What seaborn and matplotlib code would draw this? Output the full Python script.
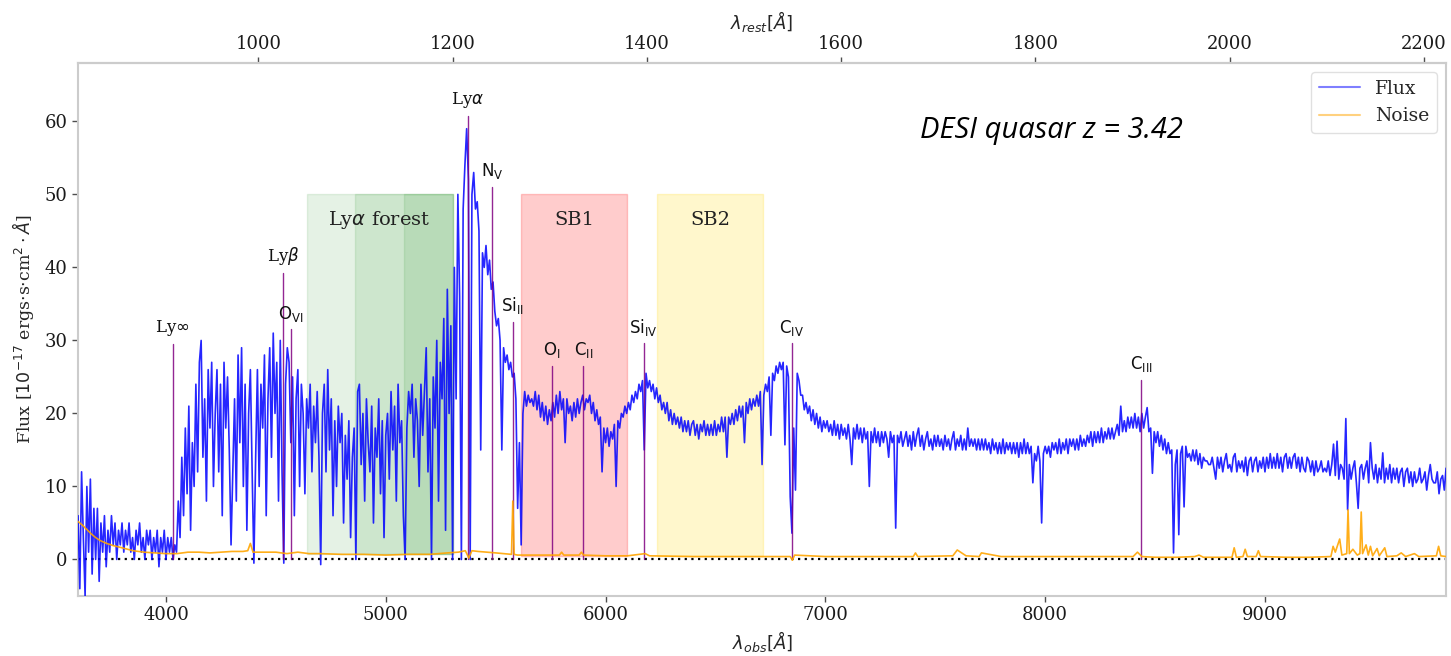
import numpy as np
import pandas as pd
import matplotlib
matplotlib.use("Agg")
import matplotlib.pyplot as plt
from matplotlib.lines import Line2D
import seaborn as sns

# ---------------- data ----------------
z_qso = 3.42
grid_step = 8.0

blue_start = 3600.0
flux_blue = [6, -4, 12, 3, -5, 10, 1, 11, -2, 7,
             0, 7, -3, 5, 1, 6, -1, 4, 1, 6,
             2, 5, 0, 4, 2, 5, 1, 4, 2, 5,
             1, 3, 0, 4, 2, 5, 1, 3, 0, 4,
             2, 4, 0, 3, 1, 4, -1, 3, 1, 4,
             0, 3, 1, 3, 0, 2, 1, 8, 3, 14]

forest_start = 4080.0
flux_forest = [6, 18, 9, 21, 4, 16, 10, 24, 12, 27,
               30, 14, 22, 8, 26, 18, 27, 10, 20, 26,
               12, 24, 6, 27, 18, 25, 15, 2, 12, 22,
               8, 28, 16, 29, 10, 24, 4, 20, 26, 12,
               -0.5, 14, 26, 10, 24, 18, 28, 6, 22, 29,
               14, 31, 20, 27, 8, 30, 12, -0.5, 24, 29,
               27, 16, 25, 6, 22, 26, 10, 24, 20, 9,
               22, 18, 24, 12, 21, 16, 23, 14, -0.7, 20,
               24, 12, 26, 15, 22, 6, 19, 10, 21, 16,
               20, 5, 17, 11, 19, 3, 14, 18, 0, 23,
               24, 13, 20, 8, 22, 16, 12, 21, 5, 18,
               14, 22, 9, 19, 3, 17, 20, 11, 23, 15,
               21, 8, 24, 16, 19, 6, 0, 18, 23, 20,
               24, 14, 22, 19, 10, 24, 17, 23, 29, 12,
               22, 0, 25, 18, 30, 8, 27, 22, 33, 4,
               37, 20, 32, 0, 40, 22, 50, 36, 0, 48]

lya_start = 5360.0
flux_lya = [54, 59, 52, 0, 50, 53, 48, 49, 45, 15,
            42, 40, 43, 39, 41, 37, 38, 34, 32, 33,
            30, 15, 29, 27, 28, 26, 27, 25, 25.5, 22,
            7, 16, 2, 20, 23, 21, 22.5, 21.5, 22, 21]

red1_start = 5680.0
flux_red1 = [23, 20.5, 22.5, 19.5, 21.5, 19, 21, 18.5, 20.5, 19,
             21.5, 19.5, 22.5, 20, 23, 20.5, 22, 16, 22, 20,
             21, 19, 21.5, 19.5, 22, 20, 21.5, 22.5, 20.5, 22,
             21.5, 22.5, 20, 21.5, 19, 20.5, 18.5, 19.5, 12, 18,
             16, 18, 15.5, 17.5, 16.5, 18.5, 10, 19, 18, 20,
             19.5, 21, 20, 21.5, 20.5, 22.5, 21.5, 23, 22, 24,
             23, 24.5, 15, 25.5, 23.5, 24.5, 23, 24, 22, 23.5,
             21.5, 22.5, 20.5, 21.5, 20, 21.5, 19, 20.5, 18.5, 20,
             18.5, 19.5, 18, 19.5, 17.5, 19, 17.5, 19, 17, 18.5,
             19, 17, 18.5, 16.5, 18.5, 17.5, 19, 17, 18.5, 17,
             18.5, 17, 19, 17, 18.5, 17.5, 19.5, 17.5, 19.5, 14,
             19.5, 18.5, 20, 18.5, 20.5, 19, 21, 19.5, 21, 16,
             21.5, 20, 22, 20.5, 22, 21, 22.5, 21, 23, 13,
             22.5, 24, 23, 25, 17, 25.5, 24.5, 26.5, 25.5, 27,
             26, 27, 15.7, 26.5, 25, 8.6, 3.6, 18, 9.5, 25.5,
             24.5, 22.5, 22.5, 20.5, 21.5, 20, 21, 19, 20.5, 18.5,
             20, 18, 19.5, 17.5, 19, 18, 19, 17.5, 18.5, 17,
             19, 17, 18.5, 16.5, 18.5, 17, 18, 16.5, 18.5, 16.5,
             13, 18, 16.5, 18.5, 16.5, 18, 16, 18, 16.5, 17.5,
             10, 17.5, 16, 18, 16, 17.5, 15.5, 17.5, 16, 17.5]

red2_start = 7280.0
flux_red2 = [16.5, 14, 17.5, 16, 17, 4.3, 17, 16, 17.5, 15.5,
             16.5, 17.5, 15.5, 17, 15, 17.5, 15.5, 17, 18, 15.5,
             17, 15, 16.5, 17.5, 15.5, 16.5, 15, 17, 15.5, 17,
             15.5, 16.5, 15, 17, 15.5, 16.5, 15, 16.5, 17.5, 15,
             16.5, 15.5, 17, 15, 16.5, 15, 18, 15.5, 16.5, 15.5,
             16.5, 15, 16.5, 15, 16.5, 15, 16.5, 15, 16, 14.5,
             16.5, 15, 16, 14.5, 16, 14.5, 16.5, 14.5, 16, 15,
             16, 14.5, 16, 14.5, 16, 14, 16, 14.5, 16.5, 14.5,
             16, 14.5, 15.5, 10.5, 14.5, 13.5, 15.5, 13.5, 5, 14.5,
             15.5, 14.5, 15.5, 14, 16, 15, 16, 14.5, 16.5, 14.5,
             16, 15, 16.5, 14.5, 16.5, 15.5, 16.5, 15, 16.5, 15,
             17, 15.5, 16.5, 15.5, 17, 16, 17.5, 15.5, 17.5, 16,
             17.5, 16, 18, 16, 17.5, 16.5, 18, 16.5, 18, 16.5,
             17.5, 18.5, 17, 21, 17.5, 19, 17.5, 19.5, 18, 19.5,
             18, 20, 18, 19.5, 17.5, 20, 18, 19.5, 20.8, 17.5,
             18, 11.8, 17.5, 16, 17.5, 15.5, 17, 15, 16.5, 14.5,
             16, 14.5, 15, 0.9, 13, 15, 3.4, 14.5, 15.5, 7.2,
             15.5, 14, 14.5, 13.5, 15, 13.5, 15, 13, 14.5, 12.5,
             14, 13.5, 13.5, 13, 13, 14, 12.5, 11, 14, 12.5,
             14, 12, 13.5, 14.5, 12.5, 13, 12, 14, 14.5, 12,
             13.5, 12.5, 13.5, 12, 14, 11.5, 13.5, 14, 12, 13.5,
             14, 12, 13.5, 12.5, 14, 12, 14, 12.5, 14.5, 12.5,
             14, 12.5, 14.5, 12.5, 14, 12, 14, 14.5, 12.5, 14,
             12.5, 14, 14.5, 12.5, 14, 12, 14, 12.5, 12, 14,
             13.5, 12, 13.5, 11.5, 13.5, 12, 12.5, 13.5, 12, 12.5,
             12, 13.5, 11.5, 13, 15.8, 11.5, 16.2, 11, 13, 12.5,
             11, 19.3, 6.8, 13, 11, 12.5, 13.5, 10.5, 7, 12.5,
             13, 11, 12.5, 13.5, 10.5, 16, 12.5, 11, 13, 10.5,
             12.5, 11, 14.6, 10.5, 12.5, 11, 13, 10.5, 12.5, 11,
             12.5, 10.5, 12, 12.5, 10, 12, 12.5, 10.5, 12, 10,
             12, 10.5, 11, 12.5, 10.5, 11, 12, 9.5, 11.5, 13,
             11, 10.5, 10.5, 12, 9, 11, 11.5, 9.5, 12.5, 10.5]

noise_wave = [3600, 3620, 3640, 3660, 3680, 3700, 3730, 3760, 3800, 3850,
              3900, 3950, 4000, 4050, 4100, 4150, 4200, 4250, 4300, 4350,
              4372, 4384, 4396, 4450, 4500, 4550, 4600, 4650, 4700, 4800,
              4900, 5000, 5100, 5200, 5280, 5330, 5362, 5378, 5392, 5420,
              5500, 5572, 5578, 5584, 5600, 5700, 5790, 5800, 5810, 5880,
              5890, 5900, 6000, 6100, 6180, 6200, 6400, 6600, 6840, 6850,
              6860, 7000, 7200, 7400, 7410, 7420, 7580, 7600, 7620, 7640,
              7700, 7710, 7800, 7900, 8000, 8100, 8200, 8300, 8400, 8420,
              8440, 8500, 8600, 8680, 8700, 8720, 8800, 8850, 8860, 8870,
              8900, 8910, 8920, 8960, 8970, 8980, 9100, 9200, 9300, 9310,
              9320, 9340, 9350, 9372, 9378, 9384, 9400, 9420, 9432, 9438,
              9444, 9460, 9470, 9480, 9490, 9510, 9520, 9545, 9555, 9600,
              9620, 9640, 9680, 9700, 9780, 9790, 9800, 9824]
noise_vals = [5.2, 4.7, 4.1, 3.5, 3.0, 2.6, 2.2, 1.9, 1.6, 1.2,
              1.0, 0.9, 0.8, 0.8, 1.0, 1.0, 0.9, 1.0, 1.1, 1.1,
              1.2, 2.2, 1.0, 1.0, 1.0, 0.8, 1.0, 0.8, 0.8, 0.7,
              0.7, 0.6, 0.7, 0.7, 0.9, 1.0, 1.2, 0.2, 1.2, 1.1,
              0.9, 0.7, 8.0, 0.7, 0.6, 0.6, 0.6, 1.0, 0.6, 0.6,
              1.0, 0.6, 0.5, 0.5, 0.8, 0.5, 0.4, 0.4, 0.4, -0.1,
              0.6, 0.4, 0.4, 0.4, 0.9, 0.4, 0.5, 1.3, 0.9, 0.5,
              0.4, 0.9, 0.4, 0.4, 0.4, 0.4, 0.4, 0.4, 0.4, 1.0,
              0.4, 0.3, 0.3, 0.4, 0.6, 0.3, 0.3, 0.3, 1.6, 0.3,
              0.4, 1.4, 0.4, 0.4, 1.2, 0.4, 0.3, 0.3, 0.4, 1.8,
              1.0, 2.8, 0.6, 0.8, 6.8, 0.8, 1.4, 0.6, 0.8, 6.5,
              0.8, 2.0, 0.6, 1.8, 0.5, 1.5, 0.5, 1.6, 0.4, 0.5,
              0.9, 0.4, 0.8, 0.4, 0.5, 1.8, 0.5, 0.4]

line_labels = ["Ly$\\infty$", "Ly$\\beta$", "$\\mathrm{O_{VI}}$", "Ly$\\alpha$",
               "$\\mathrm{N_{V}}$", "$\\mathrm{Si_{II}}$", "$\\mathrm{O_{I}}$",
               "$\\mathrm{C_{II}}$", "$\\mathrm{Si_{IV}}$", "$\\mathrm{C_{IV}}$",
               "$\\mathrm{C_{III}}$"]
line_rest = [911.8, 1025.7, 1033.8, 1215.7, 1240.8, 1262.0, 1302.2, 1334.5,
             1396.8, 1549.0, 1908.7]
line_tops = [29.5, 39.3, 31.5, 60.8, 51.0, 32.5, 26.5, 26.5, 29.6, 29.6, 24.6]

forest_edges = [1050, 1100, 1150]
forest_end = 1200
sb_names = ["SB1", "SB2"]
sb_lo = [1270, 1410]
sb_hi = [1380, 1520]
band_top = 50

rest_ticks = [1000, 1200, 1400, 1600, 1800, 2000, 2200]
flux_ticks = [0, 10, 20, 30, 40, 50, 60]

# ---------------- build frames ----------------
segments = [(blue_start, flux_blue), (forest_start, flux_forest), (lya_start, flux_lya),
            (red1_start, flux_red1), (red2_start, flux_red2)]
waves, fluxes = [], []
for start, vals in segments:
    waves.append(start + grid_step * np.arange(len(vals)))
    fluxes.append(np.asarray(vals, dtype=float))
flux_df = pd.DataFrame({"wave": np.concatenate(waves), "flux": np.concatenate(fluxes)})
noise_df = pd.DataFrame({"wave": noise_wave, "noise": noise_vals})

# ---------------- style ----------------
sns.set_style("white")
plt.rcParams["font.family"] = ["DejaVu Serif"]
plt.rcParams["mathtext.fontset"] = "dejavusans"

fig = plt.figure(figsize=(14.51, 6.56), dpi=100)
ax = fig.add_axes([0.0538, 0.0915, 0.9428, 0.8125])

fac = 1 + z_qso
# shaded regions
for lo in forest_edges:
    ax.fill_between([lo * fac, forest_end * fac], 0.7, band_top, color="green",
                    alpha=0.1, lw=1, zorder=1)
ax.text((forest_edges[0] + forest_end) / 2 * fac, 46.5, "Ly$\\alpha$ forest",
        ha="center", va="center", fontsize=14, color="#222222", zorder=6)
for name, lo, hi, col in zip(sb_names, sb_lo, sb_hi, ["red", "gold"]):
    ax.fill_between([lo * fac, hi * fac], 0.5, band_top, color=col, alpha=0.2,
                    lw=1, zorder=1)
    ax.text((lo + hi) / 2 * fac, 46.5, name, ha="center", va="center",
            fontsize=14, color="#222222", zorder=6)

# zero line
ax.axhline(0, color="black", ls=(0, (1, 2)), lw=1.6, zorder=2)

# spectrum
sns.lineplot(data=flux_df, x="wave", y="flux", ax=ax, color="blue", lw=1.2,
             alpha=0.85, zorder=3, sort=True, estimator=None)
sns.lineplot(data=noise_df, x="wave", y="noise", ax=ax, color="orange", lw=1.2,
             alpha=0.9, zorder=5, sort=True, estimator=None)

# emission lines
for lab, lr, top in zip(line_labels, line_rest, line_tops):
    xo = lr * fac
    ax.plot([xo, xo], [0, top], color="purple", lw=1.0, alpha=0.85, zorder=4)
    ax.text(xo, top + 0.8, lab, ha="center", va="bottom", fontsize=12,
            color="#111111", zorder=6)

ax.text(8030, 58.7, "DESI quasar z = 3.42", family=["Open Sans", "DejaVu Sans"],
        style="italic", fontsize=21, ha="center", va="center", color="black")

ax.set_xlim(3600, 9824)
ax.set_ylim(-5, 68)
ax.set_yticks(flux_ticks)
ax.set_xlabel("$\\lambda_{obs}[\\AA]$", fontsize=13, labelpad=3)
ax.set_ylabel("Flux [$10^{-17}$ ergs$\\cdot$s$\\cdot$cm$^2\\cdot\\AA$]", fontsize=12.5,
              labelpad=6)

ax.tick_params(axis="both", which="major", direction="out", length=4, width=1,
               color="0.3", labelsize=13, labelcolor="#1a1a1a",
               bottom=True, left=True, top=False, right=False)
for s in ax.spines.values():
    s.set_color("0.8")
    s.set_linewidth(1.5)

secax = ax.secondary_xaxis("top", functions=(lambda x: x / fac, lambda x: x * fac))
secax.set_xticks(rest_ticks)
secax.set_xlabel("$\\lambda_{rest}[\\AA]$", fontsize=13, labelpad=4)
secax.tick_params(axis="x", direction="out", length=4, width=1, color="0.3",
                  labelsize=13, labelcolor="#1a1a1a", top=True)
for s in secax.spines.values():
    s.set_color("0.8")
    s.set_linewidth(1.5)

handles = [Line2D([0], [0], color="blue", alpha=0.5, lw=1.5),
           Line2D([0], [0], color="orange", alpha=0.5, lw=1.5)]
leg = ax.legend(handles, ["Flux", "Noise"], loc="upper right", fontsize=13.5,
                frameon=True, fancybox=True, handlelength=2.2)
leg.get_frame().set_edgecolor("0.85")

fig.savefig("out.png", dpi=100)
